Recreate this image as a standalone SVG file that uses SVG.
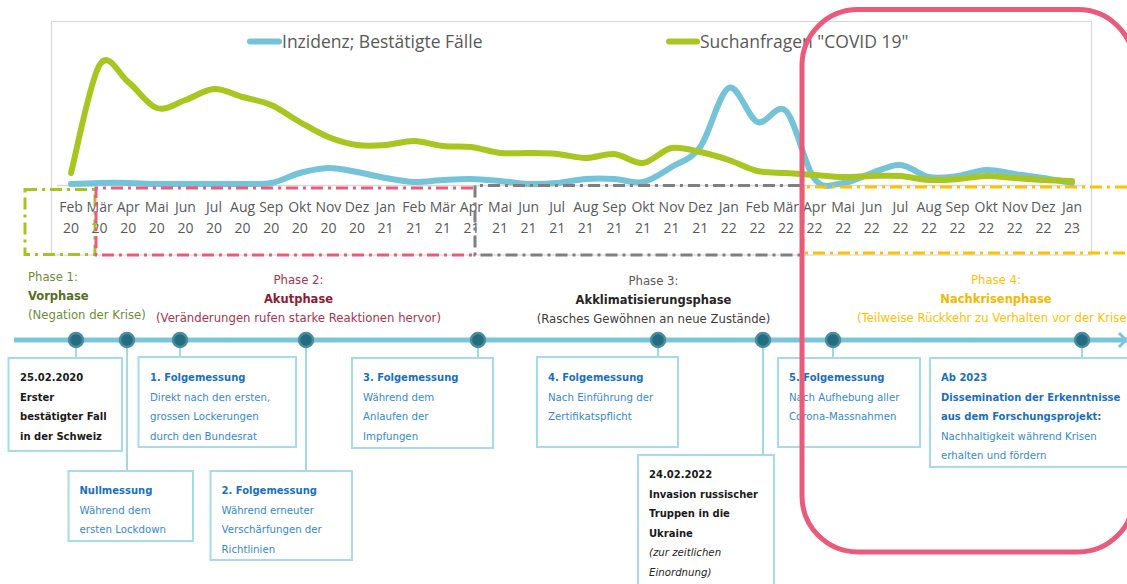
<svg xmlns="http://www.w3.org/2000/svg" width="1127" height="584" viewBox="0 0 1127 584">
<defs>
<style>
.ax{font-family:'Open Sans',sans-serif;font-size:14px;fill:#595959;text-anchor:middle}
.lg{font-family:'Open Sans',sans-serif;font-size:17.5px;fill:#595959}
.ph{font-family:'DejaVu Sans',Verdana,sans-serif;font-size:11.7px;text-anchor:middle}
.phb{font-family:'DejaVu Sans',Verdana,sans-serif;font-size:11.5px;font-weight:bold;text-anchor:middle}
.bx{fill:#fff;stroke:#a6dbe8;stroke-width:2}
.t{font-family:'DejaVu Sans',Verdana,sans-serif;font-size:10.2px}
.tb{font-family:'DejaVu Sans',Verdana,sans-serif;font-size:10px;font-weight:bold}
.blue{fill:#1b6fc0}
.lblue{fill:#3589d0}
.dk{fill:#1a1a1a}
.conn{stroke:#8ccfe0;stroke-width:1.6;fill:none}
.dot{fill:#236d82;stroke:#4b8d9f;stroke-width:2.5}
.pbox{fill:none;stroke-width:3;stroke-dasharray:12 5 3 5}
.curve{fill:none;stroke-width:6;stroke-linecap:round;stroke-linejoin:round}
</style>
</defs>
<rect width="1127" height="584" fill="#fff"/>

<!-- chart -->
<g id="chart">
  <rect x="51.5" y="21.5" width="1040" height="233.5" fill="#fff" stroke="#d9d9d9" stroke-width="1.2"/>
  <line x1="57" y1="185.5" x2="1086" y2="185.5" stroke="#d9d9d9" stroke-width="1.5"/>
  <!-- confirmed cases -->
  <path class="curve" stroke="#74c3d8" d="M71,184 C75.8,183.8 90.1,183.2 99.6,183 S118.7,182.8 128.2,183 S147.3,183.8 156.8,184 S175.9,184 185.4,184 S204.5,184 214,184 S233.1,184.2 242.6,184 S261.7,184.8 271.2,183 S290.3,175.5 299.8,173 S318.9,168.2 328.4,168 S347.5,170.3 357,172 S376.1,176.3 385.6,178 S404.7,181.7 414.2,182 S433.3,180.5 442.8,180 S461.9,178.8 471.4,179 S490.5,180.2 500,181 S519.1,183.7 528.6,184 S547.7,183.8 557.2,183 S576.3,179.7 585.8,179 S604.9,178.5 614.4,179 S633.5,184 643,182 S662.1,172.8 671.6,167 S690.7,160.2 700.2,147 S719.3,92.2 728.8,88 S747.9,118.2 757.4,122 S776.5,101.5 786,111 S805.1,167 814.6,179 S833.7,184 843.2,183 S862.3,176 871.8,173 S890.9,164.3 900.4,165 S919.5,175.2 929,177 S948.1,177.2 957.6,176 S976.7,170.3 986.2,170 S1005.3,172.7 1014.8,174 S1033.9,176.5 1043.4,178 S1067.2,182.2 1072,183"/>
  <!-- search queries -->
  <path class="curve" stroke="#a8c61f" d="M71,173 C75.8,155 90.1,80.2 99.6,65 S118.7,74.8 128.2,82 S147.3,105 156.8,108 S175.9,103.2 185.4,100 S204.5,89.5 214,89 S233.1,94.3 242.6,97 S261.7,100.8 271.2,105 S290.3,116.7 299.8,122 S318.9,133.2 328.4,137 S347.5,143.7 357,145 S376.1,145.7 385.6,145 S404.7,140.8 414.2,141 S433.3,145 442.8,146 S461.9,145.8 471.4,147 S490.5,152 500,153 S519.1,152.8 528.6,153 S547.7,153.2 557.2,154 S576.3,158 585.8,158 S604.9,153.2 614.4,154 S633.5,164 643,163 S662.1,149.8 671.6,148 S690.7,150 700.2,152 S719.3,156.8 728.8,160 S747.9,168.8 757.4,171 S776.5,172.3 786,173 S805.1,174.3 814.6,175 S833.7,176.8 843.2,177 S862.3,176.2 871.8,176 S890.9,175.3 900.4,176 S919.5,179.5 929,180 S948.1,179.7 957.6,179 S976.7,176.2 986.2,176 S1005.3,177.3 1014.8,178 S1033.9,179.5 1043.4,180 S1067.2,180.8 1072,181"/>
  <!-- month axis -->
  <g class="ax">
    <text x="71" y="212">Feb<tspan x="71" dy="20.5">20</tspan></text>
    <text x="99.6" y="212">Mär<tspan x="99.6" dy="20.5">20</tspan></text>
    <text x="128.2" y="212">Apr<tspan x="128.2" dy="20.5">20</tspan></text>
    <text x="156.8" y="212">Mai<tspan x="156.8" dy="20.5">20</tspan></text>
    <text x="185.4" y="212">Jun<tspan x="185.4" dy="20.5">20</tspan></text>
    <text x="214" y="212">Jul<tspan x="214" dy="20.5">20</tspan></text>
    <text x="242.6" y="212">Aug<tspan x="242.6" dy="20.5">20</tspan></text>
    <text x="271.2" y="212">Sep<tspan x="271.2" dy="20.5">20</tspan></text>
    <text x="299.8" y="212">Okt<tspan x="299.8" dy="20.5">20</tspan></text>
    <text x="328.4" y="212">Nov<tspan x="328.4" dy="20.5">20</tspan></text>
    <text x="357" y="212">Dez<tspan x="357" dy="20.5">20</tspan></text>
    <text x="385.6" y="212">Jan<tspan x="385.6" dy="20.5">21</tspan></text>
    <text x="414.2" y="212">Feb<tspan x="414.2" dy="20.5">21</tspan></text>
    <text x="442.8" y="212">Mär<tspan x="442.8" dy="20.5">21</tspan></text>
    <text x="471.4" y="212">Apr<tspan x="471.4" dy="20.5">21</tspan></text>
    <text x="500" y="212">Mai<tspan x="500" dy="20.5">21</tspan></text>
    <text x="528.6" y="212">Jun<tspan x="528.6" dy="20.5">21</tspan></text>
    <text x="557.2" y="212">Jul<tspan x="557.2" dy="20.5">21</tspan></text>
    <text x="585.8" y="212">Aug<tspan x="585.8" dy="20.5">21</tspan></text>
    <text x="614.4" y="212">Sep<tspan x="614.4" dy="20.5">21</tspan></text>
    <text x="643" y="212">Okt<tspan x="643" dy="20.5">21</tspan></text>
    <text x="671.6" y="212">Nov<tspan x="671.6" dy="20.5">21</tspan></text>
    <text x="700.2" y="212">Dez<tspan x="700.2" dy="20.5">21</tspan></text>
    <text x="728.8" y="212">Jan<tspan x="728.8" dy="20.5">22</tspan></text>
    <text x="757.4" y="212">Feb<tspan x="757.4" dy="20.5">22</tspan></text>
    <text x="786" y="212">Mär<tspan x="786" dy="20.5">22</tspan></text>
    <text x="814.6" y="212">Apr<tspan x="814.6" dy="20.5">22</tspan></text>
    <text x="843.2" y="212">Mai<tspan x="843.2" dy="20.5">22</tspan></text>
    <text x="871.8" y="212">Jun<tspan x="871.8" dy="20.5">22</tspan></text>
    <text x="900.4" y="212">Jul<tspan x="900.4" dy="20.5">22</tspan></text>
    <text x="929" y="212">Aug<tspan x="929" dy="20.5">22</tspan></text>
    <text x="957.6" y="212">Sep<tspan x="957.6" dy="20.5">22</tspan></text>
    <text x="986.2" y="212">Okt<tspan x="986.2" dy="20.5">22</tspan></text>
    <text x="1014.8" y="212">Nov<tspan x="1014.8" dy="20.5">22</tspan></text>
    <text x="1043.4" y="212">Dez<tspan x="1043.4" dy="20.5">22</tspan></text>
    <text x="1072" y="212">Jan<tspan x="1072" dy="20.5">23</tspan></text>
  </g>
  <!-- legend -->
  <line x1="250" y1="41.5" x2="279" y2="41.5" stroke="#74c3d8" stroke-width="6" stroke-linecap="round"/>
  <text class="lg" x="282" y="48">Inzidenz; Bestätigte Fälle</text>
  <line x1="669" y1="41.5" x2="697" y2="41.5" stroke="#a8c61f" stroke-width="6" stroke-linecap="round"/>
  <text class="lg" x="700" y="48">Suchanfragen "COVID 19"</text>
</g>

<!-- phase ranges on the month axis -->
<g id="phase-ranges">
  <rect class="pbox" x="25" y="189.5" width="70" height="65" stroke="#a5c41f"/>
  <path class="pbox" d="M473,188 H96 V255 H473" stroke="#ec5a7c"/>
  <path class="pbox" d="M800,185.5 H475 V255 H800" stroke="#7f7f7f"/>
  <path class="pbox" d="M1127,187 H803 V253 H1127" stroke="#ffc000"/>
</g>

<!-- phase titles -->
<g id="phase-1">
  <text class="ph" x="28" y="281" fill="#6e8c3a" text-anchor="start" style="text-anchor:start">Phase 1:</text>
  <text class="phb" x="28" y="300" fill="#566d1f" style="text-anchor:start">Vorphase</text>
  <text class="ph" x="28" y="319" fill="#6e8c3a" style="text-anchor:start">(Negation der Krise)</text>
</g>
<g id="phase-2">
  <text class="ph" x="298.5" y="284" fill="#a8344f">Phase 2:</text>
  <text class="phb" x="298.5" y="303" fill="#8e1b35">Akutphase</text>
  <text class="ph" x="298.5" y="322" fill="#a8344f">(Veränderungen rufen starke Reaktionen hervor)</text>
</g>
<g id="phase-3">
  <text class="ph" x="653.5" y="285" fill="#595959">Phase 3:</text>
  <text class="phb" x="653.5" y="304" fill="#262626">Akklimatisierungsphase</text>
  <text class="ph" x="653.5" y="323" fill="#404040">(Rasches Gewöhnen an neue Zustände)</text>
</g>
<g id="phase-4">
  <text class="ph" x="996" y="284" fill="#ffc000">Phase 4:</text>
  <text class="phb" x="996" y="303" fill="#f5b800">Nachkrisenphase</text>
  <text class="ph" x="857" y="322" fill="#ffc000" style="text-anchor:start">(Teilweise Rückkehr zu Verhalten vor der Krise)</text>
</g>

<!-- timeline axis -->
<g id="timeline">
  <line x1="14" y1="340" x2="1127" y2="340" stroke="#7ac6d9" stroke-width="5"/>
  <polyline points="1119,333 1126,340 1119,347" fill="none" stroke="#7ac6d9" stroke-width="3"/>
</g>

<!-- connectors from the timeline to the boxes -->
<g id="connectors">
  <line class="conn" x1="76" y1="340" x2="76" y2="358"/>
  <line class="conn" x1="127" y1="340" x2="127" y2="471"/>
  <line class="conn" x1="180" y1="340" x2="180" y2="357"/>
  <line class="conn" x1="306" y1="340" x2="306" y2="471"/>
  <line class="conn" x1="478" y1="340" x2="478" y2="358"/>
  <line class="conn" x1="658" y1="340" x2="658" y2="357"/>
  <line class="conn" x1="763" y1="340" x2="763" y2="455"/>
  <line class="conn" x1="833" y1="340" x2="833" y2="358"/>
  <line class="conn" x1="1082" y1="340" x2="1082" y2="358"/>
</g>

<!-- timeline markers -->
<g id="markers">
  <circle class="dot" cx="76" cy="340" r="7"/>
  <circle class="dot" cx="127" cy="340" r="7"/>
  <circle class="dot" cx="180" cy="340" r="7"/>
  <circle class="dot" cx="306" cy="340" r="7"/>
  <circle class="dot" cx="478" cy="340" r="7"/>
  <circle class="dot" cx="658" cy="340" r="7"/>
  <circle class="dot" cx="763" cy="340" r="7"/>
  <circle class="dot" cx="833" cy="340" r="7"/>
  <circle class="dot" cx="1082" cy="340" r="7"/>
</g>

<!-- event boxes -->
<g id="box-first-case">
  <rect class="bx" x="8.5" y="358" width="113.5" height="93"/>
  <text class="tb dk" x="20" y="381">25.02.2020</text>
  <text class="tb dk" x="20" y="400.5">Erster</text>
  <text class="tb dk" x="20" y="420">bestätigter Fall</text>
  <text class="tb dk" x="20" y="439.5">in der Schweiz</text>
</g>
<g id="box-followup-1">
  <rect class="bx" x="138.5" y="357" width="157.5" height="90"/>
  <text class="tb blue" x="150" y="381">1. Folgemessung</text>
  <text class="t lblue" x="150" y="400.5">Direkt nach den ersten,</text>
  <text class="t lblue" x="150" y="420">grossen Lockerungen</text>
  <text class="t lblue" x="150" y="439.5">durch den Bundesrat</text>
</g>
<g id="box-baseline">
  <rect class="bx" x="68.5" y="471" width="124.5" height="70"/>
  <text class="tb blue" x="79.5" y="494">Nullmessung</text>
  <text class="t lblue" x="79.5" y="513.5">Während dem</text>
  <text class="t lblue" x="79.5" y="533">ersten Lockdown</text>
</g>
<g id="box-followup-2">
  <rect class="bx" x="210.5" y="471" width="141.5" height="89"/>
  <text class="tb blue" x="221.5" y="494">2. Folgemessung</text>
  <text class="t lblue" x="221.5" y="513.5">Während erneuter</text>
  <text class="t lblue" x="221.5" y="533">Verschärfungen der</text>
  <text class="t lblue" x="221.5" y="552.5">Richtlinien</text>
</g>
<g id="box-followup-3">
  <rect class="bx" x="352" y="358" width="141" height="90"/>
  <text class="tb blue" x="363" y="381">3. Folgemessung</text>
  <text class="t lblue" x="363" y="400.5">Während dem</text>
  <text class="t lblue" x="363" y="420">Anlaufen der</text>
  <text class="t lblue" x="363" y="439.5">Impfungen</text>
</g>
<g id="box-followup-4">
  <rect class="bx" x="537" y="357" width="141" height="90"/>
  <text class="tb blue" x="548" y="381">4. Folgemessung</text>
  <text class="t lblue" x="548" y="400.5">Nach Einführung der</text>
  <text class="t lblue" x="548" y="420">Zertifikatspflicht</text>
</g>
<g id="box-invasion">
  <rect class="bx" x="638" y="455" width="136" height="140"/>
  <text class="tb dk" x="649" y="478">24.02.2022</text>
  <text class="tb dk" x="649" y="497.5">Invasion russischer</text>
  <text class="tb dk" x="649" y="517">Truppen in die</text>
  <text class="tb dk" x="649" y="536.5">Ukraine</text>
  <text class="t" x="649" y="556" fill="#262626" font-style="italic">(zur zeitlichen</text>
  <text class="t" x="649" y="575.5" fill="#262626" font-style="italic">Einordnung)</text>
</g>
<g id="box-followup-5">
  <rect class="bx" x="778" y="358" width="142" height="89"/>
  <text class="tb blue" x="789" y="381">5. Folgemessung</text>
  <text class="t lblue" x="789" y="400.5">Nach Aufhebung aller</text>
  <text class="t lblue" x="789" y="420">Corona-Massnahmen</text>
</g>
<g id="box-dissemination">
  <rect class="bx" x="930" y="358" width="210" height="109"/>
  <text class="tb blue" x="941" y="381">Ab 2023</text>
  <text class="tb blue" x="941" y="400.5">Dissemination der Erkenntnisse</text>
  <text class="tb blue" x="941" y="420">aus dem Forschungsprojekt:</text>
  <text class="t lblue" x="941" y="439.5">Nachhaltigkeit während Krisen</text>
  <text class="t lblue" x="941" y="459">erhalten und fördern</text>
</g>

<!-- highlight frame around the post-crisis period -->
<g id="highlight">
  <rect x="802" y="9.5" width="332" height="542.5" rx="56" ry="56" fill="none" stroke="#ea5a7b" stroke-width="5"/>
</g>
</svg>
